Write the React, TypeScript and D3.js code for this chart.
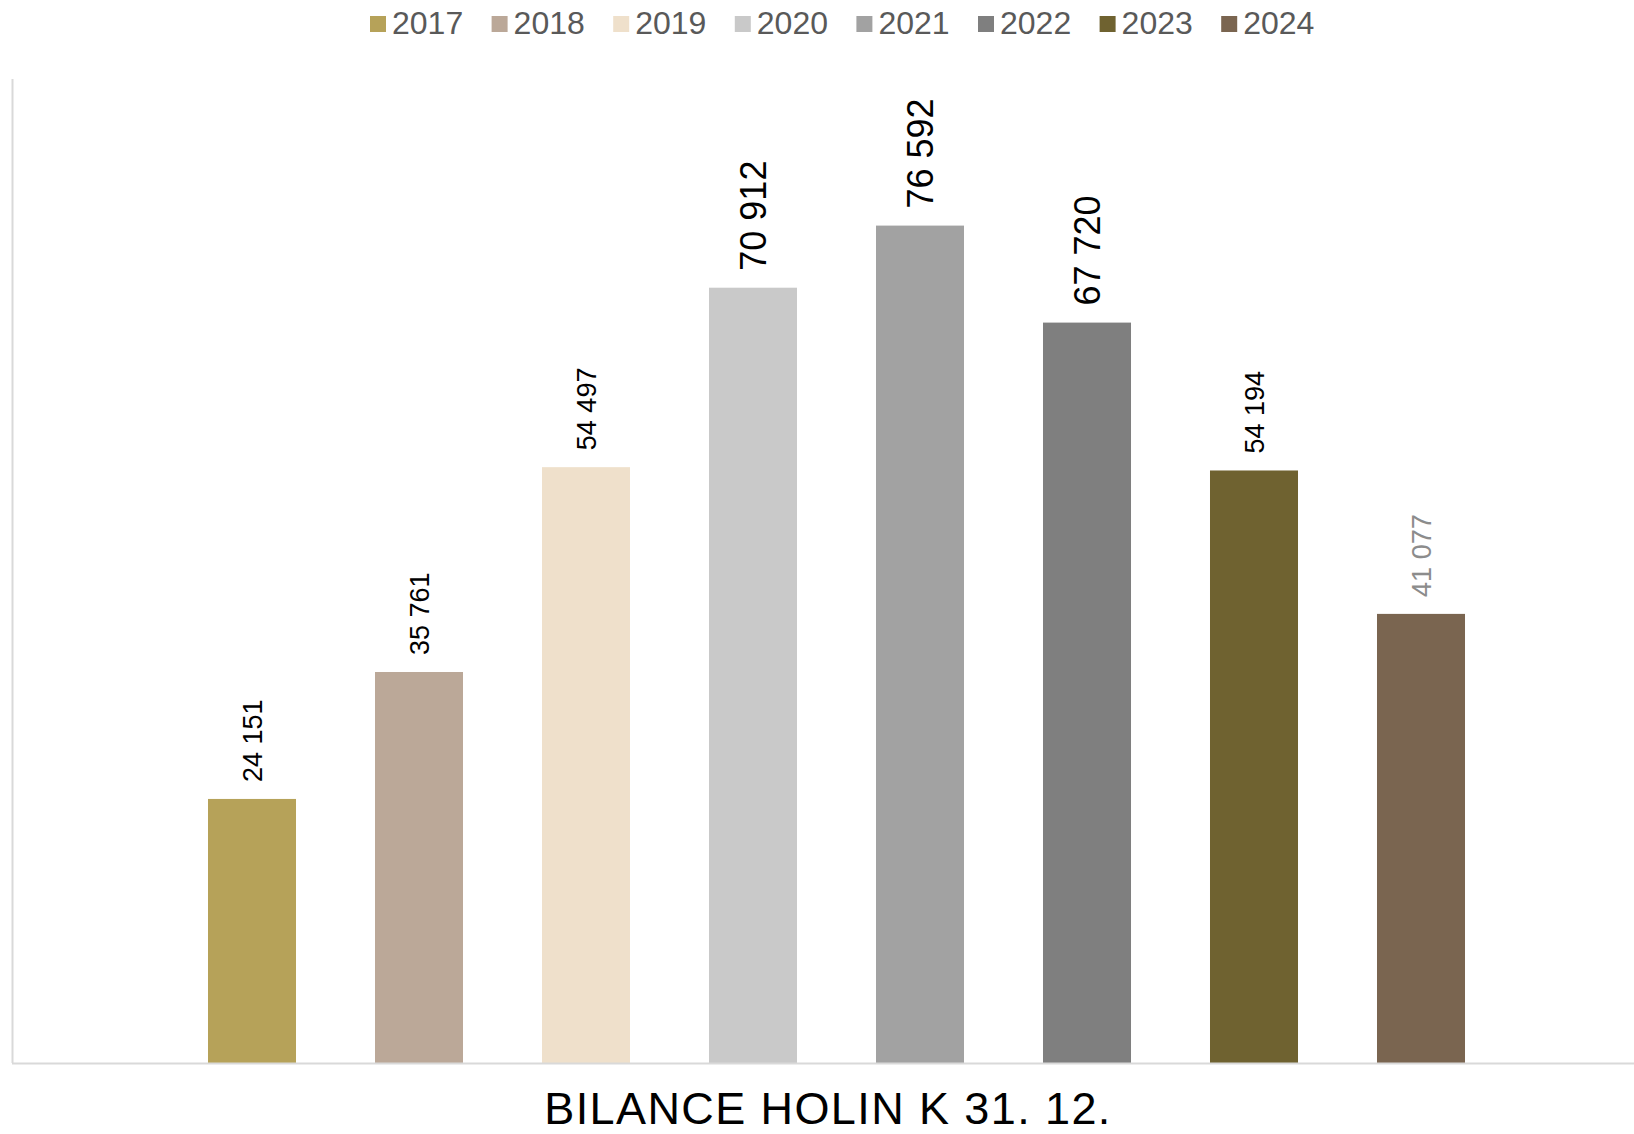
import {scaleBand, scaleLinear} from "d3";

const years = ["2017", "2018", "2019", "2020", "2021", "2022", "2023", "2024"];
const values = [24151, 35761, 54497, 70912, 76592, 67720, 54194, 41077];
const labels = ["24 151", "35 761", "54 497", "70 912", "76 592", "67 720", "54 194", "41 077"];
const title = "BILANCE HOLIN K 31. 12.";

const colors = ["#b6a259", "#bba898", "#efe0cb", "#c9c9c9", "#a2a2a2", "#7f7f7f", "#6f6230", "#7a6550"];
// larger labels on the three tallest bars, as in the original
const labelSizes = [27, 27, 27, 36, 36, 36, 27, 27];
const labelColors = ["#000", "#000", "#000", "#000", "#000", "#000", "#000", "#8c8c8c"];

const W = 1634;
const H = 1134;
const font = "'Liberation Sans', Arial, sans-serif";

export default function App() {
    const x = scaleBand<string>()
        .domain(years)
        .range([168.5, 1504.5])
        .paddingInner(0.473)
        .paddingOuter(0.2365);
    const y = scaleLinear()
        .domain([0, 90000])
        .range([1063, 79]);
    const legendStep = 121.6;

    return <svg width={W} height={H} style={{position: "absolute", left: 0, top: 0, background: "#fff"}}
                fontFamily={font}>
        {/* legend */}
        {years.map((yr, i) => (
            <g key={yr} transform={`translate(${370 + i * legendStep},0)`}>
                <rect x={0} y={16} width={16} height={16} fill={colors[i]}/>
                <text x={22} y={34} fontSize={32} fill="#595959">{yr}</text>
            </g>
        ))}

        {/* axes */}
        <line x1={12.5} x2={12.5} y1={y(90000)} y2={y(0)} stroke="#d9d9d9" strokeWidth={2}/>

        {/* bars */}
        {years.map((yr, i) => (
            <rect key={yr} x={x(yr)} y={y(values[i])} width={x.bandwidth()}
                  height={y(0) - y(values[i])} fill={colors[i]}/>
        ))}
        <line x1={12} x2={W} y1={y(0) + 0.5} y2={y(0) + 0.5} stroke="#d9d9d9" strokeWidth={2}/>

        {/* value labels */}
        {years.map((yr, i) => {
            const cx = (x(yr) ?? 0) + x.bandwidth() / 2;
            const ty = y(values[i]) - 17;
            return <text key={yr} transform={`translate(${cx},${ty}) rotate(-90)`}
                         dy="0.36em" fontSize={labelSizes[i]} fill={labelColors[i]}>{labels[i]}</text>;
        })}

        <text x={828} y={1124} textAnchor="middle" fontSize={45} letterSpacing={1.4} fill="#000">{title}</text>
    </svg>;
}
